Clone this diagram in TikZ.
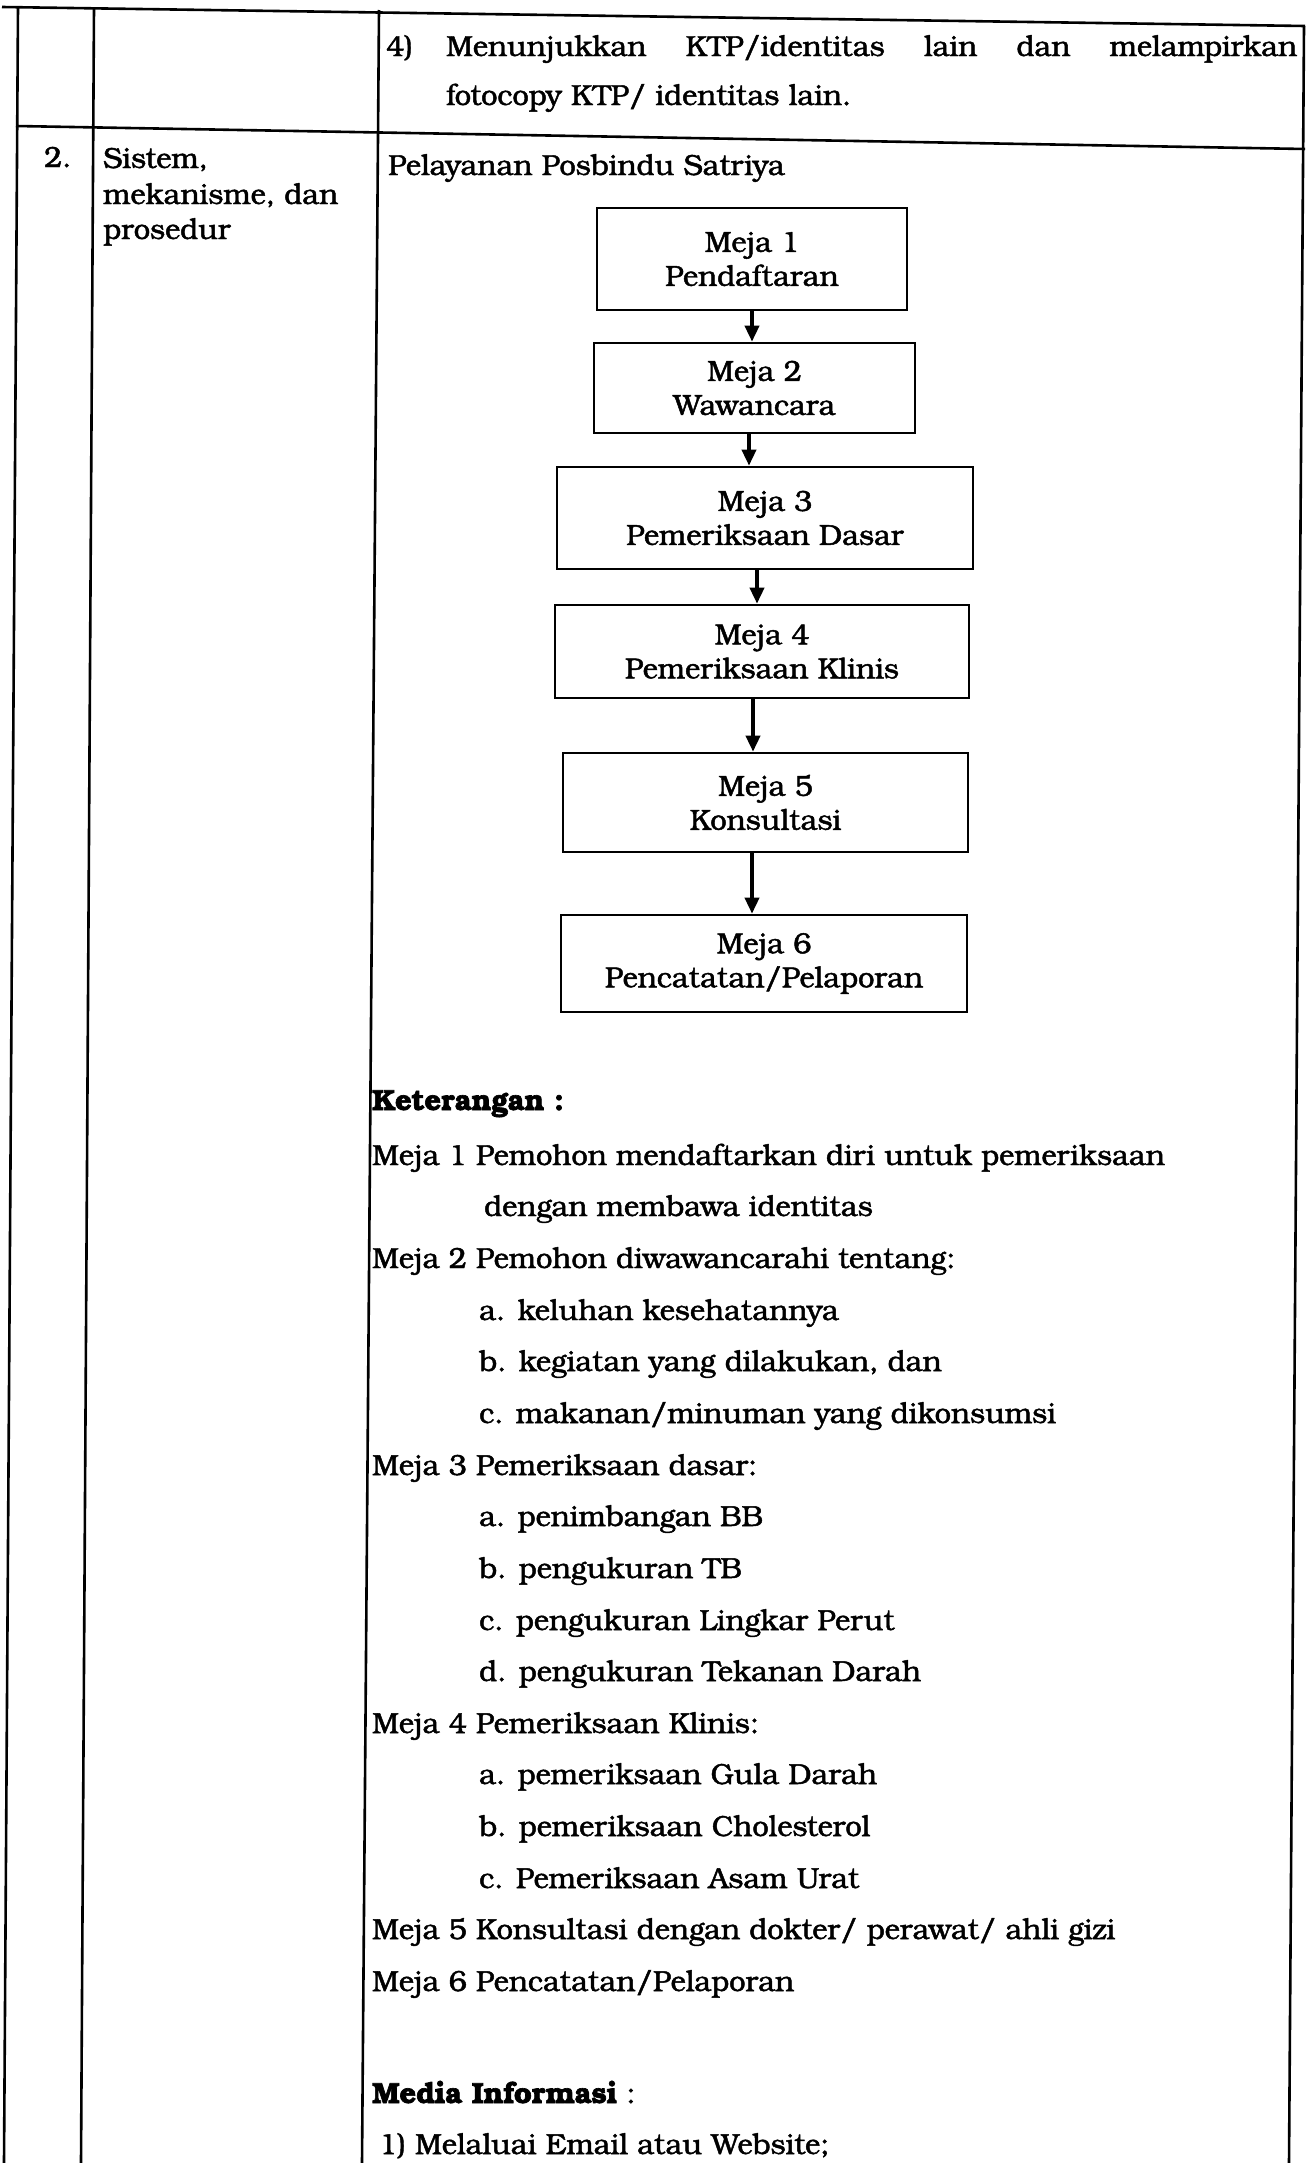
\documentclass[tikz,border=0pt]{standalone}
\usepackage{fontspec}
\setmainfont{texgyrebonum}[Extension=.otf,UprightFont=*-regular,BoldFont=*-bold,ItalicFont=*-italic,BoldItalicFont=*-bolditalic,
  UprightFeatures={FakeBold=1.6},BoldFeatures={FakeBold=2.2}]
\usetikzlibrary{arrows.meta}
\begin{document}
\begin{tikzpicture}[x=1pt,y=-1pt,
  tbl/.style={line width=2.6pt},
  mejabox/.style={draw, line width=2.6pt, align=center, inner sep=0pt,
    font=\fontsize{29}{34}\selectfont},
  txt/.style={anchor=base west, inner sep=0pt, font=\fontsize{29}{35}\selectfont},
  arr/.style={line width=3.6pt, -{Triangle[width=14pt,length=16pt]}}]
\useasboundingbox (0,0) rectangle (1312,2163);
% table lines
\draw[tbl] (2,7) -- (1305,26);
\draw[tbl] (16,126) -- (1305,149);
\draw[tbl] (18,7) -- (4,2163);
\draw[tbl] (94,8) -- (81,2163);
\draw[tbl] (379,10) -- (362,2163);
\draw[tbl] (1304,26) -- (1289,2163);
% row 1
\node[txt] (n4) at (386,56) {4)};
\node[txt] (l1) at (446,56) {\makebox[851pt][s]{Menunjukkan KTP/identitas lain dan melampirkan}};
\node[txt] (l2) at (446,105) {fotocopy KTP/ identitas lain.};
% row 2
\node[txt] (no) at (44,167) {2.};
\node[txt] (c1) at (103,168) {Sistem,};
\node[txt] (c2) at (103,204) {mekanisme, dan};
\node[txt] (c3) at (103,239) {prosedur};
\node[txt] (pel) at (388,175) {Pelayanan Posbindu Satriya};
% flow boxes
\node[mejabox, minimum width=310pt, minimum height=102pt] (b1) at (752,259) {Meja 1\\Pendaftaran};
\node[mejabox, minimum width=321pt, minimum height=90pt] (b2) at (754.5,388) {Meja 2\\Wawancara};
\node[mejabox, minimum width=416pt, minimum height=102pt] (b3) at (765,518) {Meja 3\\Pemeriksaan Dasar};
\node[mejabox, minimum width=414pt, minimum height=93pt] (b4) at (762,651.5) {Meja 4\\Pemeriksaan Klinis};
\node[mejabox, minimum width=405pt, minimum height=99pt] (b5) at (765.5,802.5) {Meja 5\\Konsultasi};
\node[mejabox, minimum width=406pt, minimum height=97pt] (b6) at (764,963.5) {Meja 6\\Pencatatan/Pelaporan};
\draw[arr] (b1.south) -- (b1.south |- b2.north);
\draw[arr] ([xshift=-5.5pt]b2.south) -- ([xshift=-5.5pt]b2.south |- b3.north);
\draw[arr] ([xshift=-8pt]b3.south) -- ([xshift=-8pt]b3.south |- b4.north);
\draw[arr] ([xshift=-9pt]b4.south) -- ([xshift=-9pt]b4.south |- b5.north);
\draw[arr] ([xshift=-13.5pt]b5.south) -- ([xshift=-13.5pt]b5.south |- b6.north);
% keterangan
\node[txt] (k0) at (372,1110) {\textbf{Keterangan :}};
\node[txt] (k1) at (372,1165) {Meja 1 Pemohon mendaftarkan diri untuk pemeriksaan};
\node[txt] (k2) at (484,1216) {dengan membawa identitas};
\node[txt] (k3) at (372,1268) {Meja 2 Pemohon diwawancarahi tentang:};
\node[txt] (k4) at (479,1320) {a. keluhan kesehatannya};
\node[txt] (k5) at (479,1371) {b. kegiatan yang dilakukan, dan};
\node[txt] (k6) at (479,1423) {c. makanan/minuman yang dikonsumsi};
\node[txt] (k7) at (372,1475) {Meja 3 Pemeriksaan dasar:};
\node[txt] (k8) at (479,1526) {a. penimbangan BB};
\node[txt] (k9) at (479,1578) {b. pengukuran TB};
\node[txt] (k10) at (479,1630) {c. pengukuran Lingkar Perut};
\node[txt] (k11) at (479,1681) {d. pengukuran Tekanan Darah};
\node[txt] (k12) at (372,1733) {Meja 4 Pemeriksaan Klinis:};
\node[txt] (k13) at (479,1784) {a. pemeriksaan Gula Darah};
\node[txt] (k14) at (479,1836) {b. pemeriksaan Cholesterol};
\node[txt] (k15) at (479,1888) {c. Pemeriksaan Asam Urat};
\node[txt] (k16) at (372,1939) {Meja 5 Konsultasi dengan dokter/ perawat/ ahli gizi};
\node[txt] (k17) at (372,1991) {Meja 6 Pencatatan/Pelaporan};
\node[txt] (m0) at (372,2103) {\textbf{Media Informasi} :};
\node[txt] (m1) at (379,2154) {1) Melaluai Email atau Website;};
\end{tikzpicture}
\end{document}
